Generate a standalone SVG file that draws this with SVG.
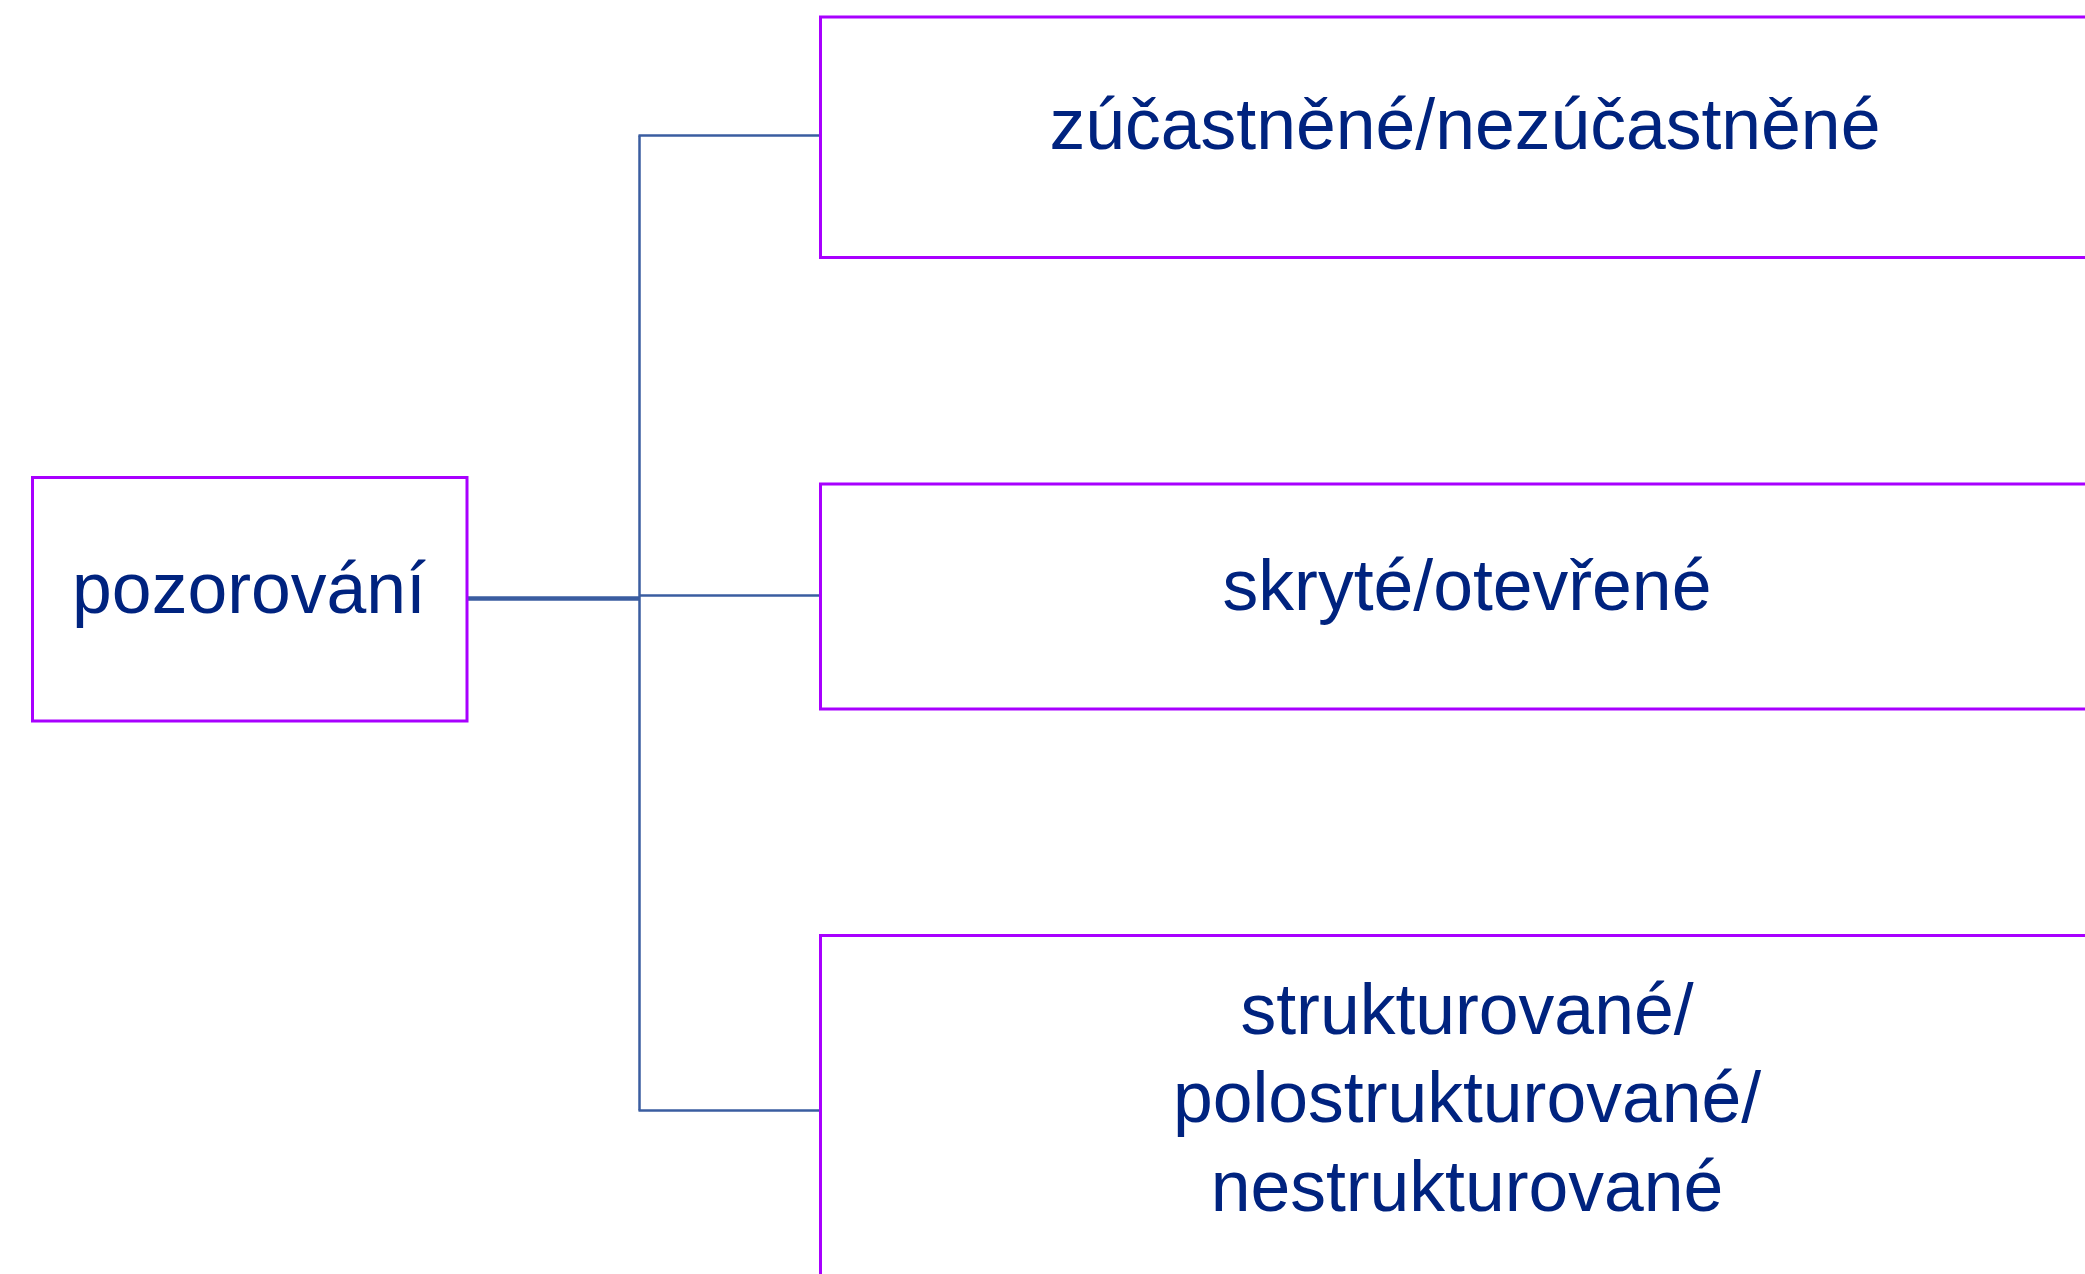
<svg xmlns="http://www.w3.org/2000/svg" width="2085" height="1274" viewBox="0 0 2085 1274">
  <style>
    .box { fill: #ffffff; stroke: #A800FF; stroke-width: 3; }
    .label { font-family: "Liberation Sans", Arial, Helvetica, sans-serif; font-size: 71.5px; fill: #00237F; text-anchor: middle; }
    .link { fill: none; stroke: #3A5DA0; stroke-width: 2.5; }
    .trunk { fill: none; stroke: #3A5DA0; stroke-width: 4.5; }
  </style>
  <rect width="2085" height="1274" fill="#ffffff"/>

  <!-- tree connectors -->
  <g id="connectors">
    <line class="trunk" x1="467" y1="598.5" x2="640" y2="598.5"/>
    <line class="link" x1="639.5" y1="135.5" x2="639.5" y2="1110.5"/>
    <line class="link" x1="638.5" y1="135.5" x2="820" y2="135.5"/>
    <line class="link" x1="639.5" y1="595.5" x2="820" y2="595.5"/>
    <line class="link" x1="638.5" y1="1110.5" x2="820" y2="1110.5"/>
  </g>

  <!-- root -->
  <g id="node-pozorovani">
    <rect class="box" x="32.5" y="477.5" width="434.5" height="243.5"/>
    <text class="label" x="249" y="613">pozorování</text>
  </g>

  <!-- branches -->
  <g id="node-zucastnene">
    <rect class="box" x="820.5" y="17" width="1300" height="240.5"/>
    <text class="label" x="1465" y="149">zúčastněné/nezúčastněné</text>
  </g>

  <g id="node-skryte">
    <rect class="box" x="820.5" y="484" width="1300" height="225"/>
    <text class="label" x="1467" y="610">skryté/otevřené</text>
  </g>

  <g id="node-strukturovane">
    <rect class="box" x="820.5" y="935.5" width="1300" height="400"/>
    <text class="label" x="1467" y="1034">strukturované/</text>
    <text class="label" x="1467" y="1122">polostrukturované/</text>
    <text class="label" x="1467" y="1211">nestrukturované</text>
  </g>
</svg>
